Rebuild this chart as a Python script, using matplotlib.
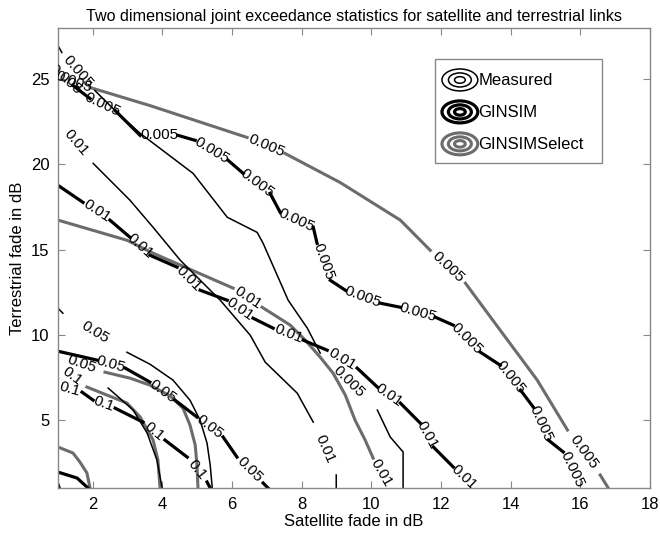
import numpy as np
import matplotlib
matplotlib.use("Agg")
import matplotlib.pyplot as plt
from matplotlib.lines import Line2D
from matplotlib.patches import Ellipse, Rectangle
from matplotlib.legend_handler import HandlerBase

plt.rcParams['font.family'] = ['Liberation Sans', 'DejaVu Sans']

# ---- contour lines (satellite dB, terrestrial dB) ----
# Measured
meas_0005_x = [1.00, 1.11, 2.06, 2.78, 3.36, 4.88, 5.86, 6.72, 6.89, 7.32, 7.61, 8.16, 8.53, 10.17, 10.54, 10.91, 10.91]
meas_0005_y = [26.97, 26.56, 24.33, 22.87, 21.82, 19.47, 16.90, 16.01, 15.37, 13.38, 12.03, 10.39, 8.93, 5.59, 4.01, 3.13, 1.02]
meas_001_x = [1.00, 2.01, 3.07, 3.73, 4.51, 5.66, 6.52, 6.95, 7.87, 8.33, 8.99, 8.99]
meas_001_y = [22.46, 20.06, 17.89, 16.31, 14.38, 12.03, 9.98, 8.40, 6.58, 4.88, 1.78, 1.02]
meas_005_x = [1.00, 1.14, 2.98, 3.64, 4.30, 4.79, 5.08, 5.28, 5.37, 5.43]
meas_005_y = [11.56, 11.27, 8.98, 8.28, 7.35, 6.17, 5.00, 3.65, 2.37, 1.02]
meas_01_x = [2.44, 3.16, 3.56, 3.84, 3.99]
meas_01_y = [6.88, 5.59, 4.24, 2.66, 1.02]
meas_in_x = [1.00, 1.06]
meas_in_y = [1.37, 1.02]

# GINSIM
gin_0005_x = [1.00, 1.43, 1.92, 2.64, 3.36, 4.45, 4.94, 5.89, 6.32, 7.09, 7.38, 8.33, 8.44,
              8.82, 9.25, 10.25, 10.83, 11.83, 12.35, 13.13, 13.70, 14.28, 14.65, 15.08, 15.51, 16.00]
gin_0005_y = [25.39, 24.63, 23.86, 23.16, 21.70, 21.70, 21.41, 20.23, 19.47, 18.30, 17.19, 16.31, 15.37,
              13.20, 12.62, 11.86, 11.62, 11.04, 10.57, 8.98, 8.22, 6.76, 5.76, 3.83, 3.13, 1.02]
gin_001_x = [1.00, 1.72, 2.49, 3.07, 3.64, 4.42, 5.08, 5.86, 6.60, 7.18, 8.04, 8.73, 9.59, 10.17, 10.83, 11.40, 11.78, 12.35, 12.98]
gin_001_y = [18.77, 17.77, 16.73, 15.72, 14.67, 13.97, 12.62, 12.03, 10.98, 10.39, 9.69, 9.10, 8.05, 6.94, 6.00, 4.83, 3.42, 2.25, 1.02]
gin_005_x = [1.00, 2.12, 2.93, 3.64, 4.36, 4.99, 5.74, 6.14, 6.89, 7.03]
gin_005_y = [9.04, 8.52, 8.05, 7.23, 6.17, 5.18, 4.01, 2.83, 1.31, 1.02]
gin_01_x = [1.00, 1.69, 2.01, 2.64, 3.44, 4.07, 4.71, 5.28, 5.37]
gin_01_y = [7.05, 6.64, 6.17, 5.70, 4.88, 3.83, 2.83, 1.37, 1.02]
gin_in_x = [1.00, 1.55, 1.86]
gin_in_y = [1.95, 1.60, 1.02]

# GINSIMSelect
sel_0005_x = [1.00, 1.92, 3.64, 6.43, 7.52, 9.10, 10.83, 11.69, 12.70, 13.70, 14.76, 15.63, 16.57, 16.80]
sel_0005_y = [25.21, 24.51, 23.45, 21.58, 20.64, 18.94, 16.73, 14.96, 13.03, 10.27, 7.35, 4.42, 1.78, 1.02]
sel_001_x = [1.00, 2.98, 3.73, 6.03, 6.86, 7.67, 8.10, 8.53, 8.90, 9.25, 9.53, 9.82, 10.05, 10.54]
sel_001_y = [16.73, 15.55, 14.79, 12.74, 11.62, 10.57, 9.69, 8.69, 7.75, 6.47, 5.00, 3.83, 2.77, 1.02]
sel_005_x = [1.00, 2.35, 3.07, 3.64, 4.22, 4.59, 4.79, 4.94, 4.99, 5.02]
sel_005_y = [8.75, 7.81, 7.46, 7.05, 6.41, 5.70, 4.71, 3.54, 2.37, 1.02]
sel_01_x = [1.00, 1.83, 2.98, 3.36, 3.73, 3.87, 3.93]
sel_01_y = [8.22, 6.94, 6.00, 5.18, 3.83, 2.66, 1.02]
sel_in_x = [1.00, 1.43, 1.63, 1.83, 1.92]
sel_in_y = [3.42, 3.07, 2.54, 1.90, 1.02]

series_names = ['Measured', 'GINSIM', 'GINSIMSelect']

# (series, level text, x, y, segments that hold an inline label)
curves = [
    ('GINSIMSelect', '0.005', sel_0005_x, sel_0005_y, [0, 3, 7, 11]),
    ('GINSIMSelect', '0.01', sel_001_x, sel_001_y, [3, 12]),
    ('GINSIMSelect', '0.05', sel_005_x, sel_005_y, [0]),
    ('GINSIMSelect', '0.1', sel_01_x, sel_01_y, [0]),
    ('GINSIMSelect', '', sel_in_x, sel_in_y, []),
    ('Measured', '0.005', meas_0005_x, meas_0005_y, [1, 12]),
    ('Measured', '0.01', meas_001_x, meas_001_y, [0, 9]),
    ('Measured', '0.05', meas_005_x, meas_005_y, [1]),
    ('Measured', '0.1', meas_01_x, meas_01_y, []),
    ('Measured', '', meas_in_x, meas_in_y, []),
    ('GINSIM', '0.005', gin_0005_x, gin_0005_y, list(range(0, 25, 2))),
    ('GINSIM', '0.01', gin_001_x, gin_001_y, [1, 3, 5, 7, 9, 11, 13, 15, 17]),
    ('GINSIM', '0.05', gin_005_x, gin_005_y, [1, 3, 5, 7]),
    ('GINSIM', '0.1', gin_01_x, gin_01_y, [0, 2, 4, 6]),
    ('GINSIM', '', gin_in_x, gin_in_y, []),
]

styles = {
    'Measured': dict(color='black', lw=1.1),
    'GINSIM': dict(color='black', lw=2.3),
    'GINSIMSelect': dict(color='#6c6c6c', lw=2.2),
}


class RingHandler(HandlerBase):
    # concentric rings, like the contour legend icons
    def create_artists(self, legend, orig_handle, xdescent, ydescent,
                       width, height, fontsize, trans):
        cx = width / 2 - xdescent
        cy = height / 2 - ydescent
        arts = []
        for f in (1.0, 0.64, 0.3):
            e = Ellipse((cx, cy), width * f, height * f, fill=False,
                        edgecolor=orig_handle.get_color(),
                        lw=orig_handle.get_linewidth(), transform=trans)
            arts.append(e)
        return arts


fig = plt.figure(figsize=(6.6, 5.33), dpi=100)
ax = fig.add_axes([58 / 660, 1 - 488.3 / 533, 592 / 660, 460.3 / 533])

handles = {}
for name, level, xs, ys, gaps in curves:
    st = styles[name]
    # break the line where the inline labels go
    xd, yd = [], []
    for j in range(len(xs)):
        xd.append(xs[j])
        yd.append(ys[j])
        if j in gaps:
            xd.append(np.nan)
            yd.append(np.nan)
    ln, = ax.plot(xd, yd, color=st['color'], lw=st['lw'], solid_joinstyle='round')
    handles.setdefault(name, ln)
    for i in gaps:
        xm = (xs[i] + xs[i + 1]) / 2
        ym = (ys[i] + ys[i + 1]) / 2
        dx = xs[i + 1] - xs[i]
        dy = ys[i + 1] - ys[i]
        if dx < 0:
            dx, dy = -dx, -dy
        ang = np.degrees(np.arctan2(dy, dx))
        ax.text(xm, ym, level, rotation=ang, transform_rotates_text=True,
                rotation_mode='anchor', ha='center', va='center',
                fontsize=11, clip_on=True)

ax.set_xlim(1, 18)
ax.set_ylim(1, 28)
ax.set_xticks(range(2, 19, 2))
ax.set_yticks(range(5, 26, 5))
ax.tick_params(direction='in', top=True, right=True, length=5, width=0.8,
               color='#888888', labelsize=12, pad=6)
for sp in ax.spines.values():
    sp.set_color('#888888')
    sp.set_linewidth(1.0)

ax.set_title('Two dimensional joint exceedance statistics for satellite and terrestrial links',
             fontsize=11.6, pad=5)
ax.set_xlabel('Satellite fade in dB', fontsize=12, labelpad=2)
ax.set_ylabel('Terrestrial fade in dB', fontsize=12, labelpad=4)

# legend box drawn separately (MATLAB style has wide right padding)
ax.add_patch(Rectangle((0.637, 0.707), 0.282, 0.226, transform=ax.transAxes,
                       facecolor='white', edgecolor='#888888', lw=1.0, zorder=5))
leg_handles = [handles[n] for n in series_names]
leg = ax.legend(leg_handles, series_names, loc='upper left',
                bbox_to_anchor=(0.6486, 0.911), borderaxespad=0, borderpad=0,
                handler_map={Line2D: RingHandler()}, fontsize=12,
                handlelength=2.15, handleheight=1.65, handletextpad=0.04,
                labelspacing=0.6, frameon=False)
leg.set_zorder(6)

fig.savefig('out.png', dpi=100)
